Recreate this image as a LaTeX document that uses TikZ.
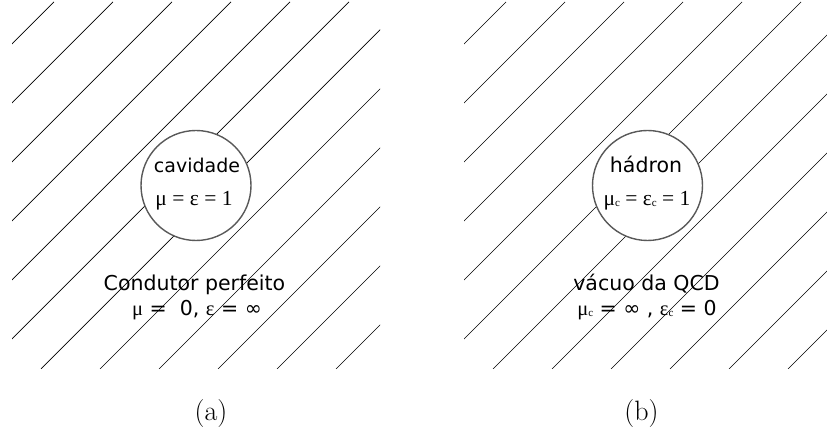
\documentclass[tikz,border=0pt]{standalone}
\usepackage{fontspec}
\newfontfamily\dvsans{DejaVu Sans}
\newfontfamily\lserif{Liberation Serif}
\newcommand{\csub}{\raisebox{-1.5pt}{\fontsize{11}{11}\selectfont c}}

\begin{document}
\begin{tikzpicture}[x=1pt, y=1pt,
    hatch/.style={black, line width=0.7pt},
    cavity/.style={circle, draw=black!65, line width=1.4pt, fill=white, minimum size=110pt, inner sep=0pt},
    txt/.style={anchor=base, inner sep=0pt, font=\dvsans\fontsize{20.5}{22}\selectfont},
    mtxt/.style={anchor=base, inner sep=0pt, font=\lserif\fontsize{21.5}{22}\selectfont},
    capt/.style={anchor=base, inner sep=0pt, font=\fontsize{28}{30}\selectfont}]
    \useasboundingbox (0,0) rectangle (827,443);

    % RATLLAT DELS DOS MEDIS
    \foreach \dx in {0,452} {
        \begin{scope}
            \clip (\dx+12,74) rectangle (\dx+380,441);
            \foreach \k in {0,...,11}
                \draw[hatch] ({\dx-313+59*\k},74) -- ++(367,367);
        \end{scope}
    }

    % (a) CAVITAT
    \node[cavity] (cav) at (196,257.5) {};
    \node[txt, font=\dvsans\fontsize{19}{22}\selectfont] (cavnom) at (197,270) {cavidade};
    \node[mtxt] (cavmu) at (194,237.5) {μ = ε = 1};
    \node[txt] (cond) at (194.5,152.5) {Condutor perfeito};
    \node[txt] (condmu) at (197,127.5) {{\lserif μ} =~~0, {\lserif ε} = ∞};
    \node[capt] (capa) at (211,22) {(a)};

    % (b) HADRO
    \node[cavity] (had) at (647.5,257.5) {};
    \node[txt] (hadnom) at (646,270) {hádron};
    \node[mtxt] (hadmu) at (647,237.5) {μ\csub{} = ε\csub{} = 1};
    \node[txt] (vac) at (646.5,152.5) {vácuo da QCD};
    \node[txt] (vacmu) at (647,127.5) {{\lserif μ\csub} = ∞ , {\lserif ε\csub} = 0};
    \node[capt] (capb) at (641.5,22) {(b)};
\end{tikzpicture}
\end{document}
